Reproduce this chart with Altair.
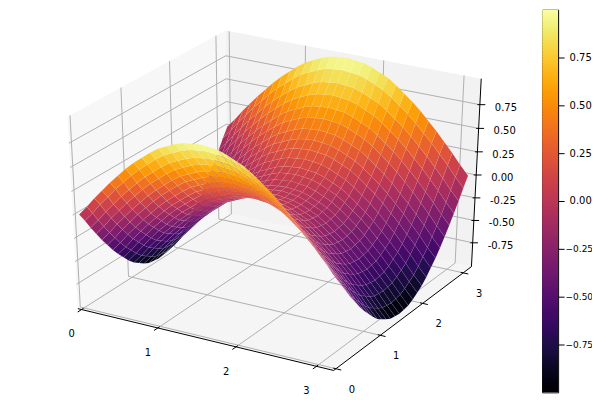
import altair as alt
import pandas as pd

x_grid = [0, .105, .209, .314, .419, .524, .628, .733, .838, .942, 1.047, 1.152, 1.257, 1.361, 1.466, 1.571,
          1.676, 1.78, 1.885, 1.99, 2.094, 2.199, 2.304, 2.409, 2.513, 2.618, 2.723, 2.827, 2.932, 3.037, 3.142]
y_grid = list(x_grid)

# surface heights in hundredths; one row per y_grid value
z_rows = [
[0,10,21,31,41,50,59,67,74,81,87,91,95,98,99,100,99,98,95,91,87,81,74,67,59,50,41,31,21,10,0],
[-10,0,11,21,31,40,49,57,64,71,77,81,85,88,89,90,89,88,85,81,77,71,64,57,49,40,31,21,11,0,-10],
[-21,-11,0,10,20,29,38,46,53,60,66,70,74,77,78,79,78,77,74,70,66,60,53,46,38,29,20,10,0,-11,-21],
[-31,-21,-10,0,10,19,28,36,43,50,56,60,64,67,68,69,68,67,64,60,56,50,43,36,28,19,10,0,-10,-21,-31],
[-41,-31,-20,-10,0,9,18,26,33,40,46,50,54,57,58,59,58,57,54,50,46,40,33,26,18,9,0,-10,-20,-31,-41],
[-50,-40,-29,-19,-9,0,9,17,24,31,37,41,45,48,49,50,49,48,45,41,37,31,24,17,9,0,-9,-19,-29,-40,-50],
[-59,-49,-38,-28,-18,-9,0,8,15,22,28,32,36,39,40,41,40,39,36,32,28,22,15,8,0,-9,-18,-28,-38,-49,-59],
[-67,-57,-46,-36,-26,-17,-8,0,7,14,20,24,28,31,32,33,32,31,28,24,20,14,7,0,-8,-17,-26,-36,-46,-57,-67],
[-74,-64,-53,-43,-33,-24,-15,-7,0,7,13,17,21,24,25,26,25,24,21,17,13,7,0,-7,-15,-24,-33,-43,-53,-64,-74],
[-81,-71,-60,-50,-40,-31,-22,-14,-7,0,6,10,14,17,18,19,18,17,14,10,6,0,-7,-14,-22,-31,-40,-50,-60,-71,-81],
[-87,-77,-66,-56,-46,-37,-28,-20,-13,-6,0,4,8,11,12,13,12,11,8,4,0,-6,-13,-20,-28,-37,-46,-56,-66,-77,-87],
[-91,-81,-70,-60,-50,-41,-32,-24,-17,-10,-4,0,4,7,8,9,8,7,4,0,-4,-10,-17,-24,-32,-41,-50,-60,-70,-81,-91],
[-95,-85,-74,-64,-54,-45,-36,-28,-21,-14,-8,-4,0,3,4,5,4,3,0,-4,-8,-14,-21,-28,-36,-45,-54,-64,-74,-85,-95],
[-98,-88,-77,-67,-57,-48,-39,-31,-24,-17,-11,-7,-3,0,1,2,1,0,-3,-7,-11,-17,-24,-31,-39,-48,-57,-67,-77,-88,-98],
[-99,-89,-78,-68,-58,-49,-40,-32,-25,-18,-12,-8,-4,-1,0,1,0,-1,-4,-8,-12,-18,-25,-32,-40,-49,-58,-68,-78,-89,-99],
[-100,-90,-79,-69,-59,-50,-41,-33,-26,-19,-13,-9,-5,-2,-1,0,-1,-2,-5,-9,-13,-19,-26,-33,-41,-50,-59,-69,-79,-90,-100],
[-99,-89,-78,-68,-58,-49,-40,-32,-25,-18,-12,-8,-4,-1,0,1,0,-1,-4,-8,-12,-18,-25,-32,-40,-49,-58,-68,-78,-89,-99],
[-98,-88,-77,-67,-57,-48,-39,-31,-24,-17,-11,-7,-3,0,1,2,1,0,-3,-7,-11,-17,-24,-31,-39,-48,-57,-67,-77,-88,-98],
[-95,-85,-74,-64,-54,-45,-36,-28,-21,-14,-8,-4,0,3,4,5,4,3,0,-4,-8,-14,-21,-28,-36,-45,-54,-64,-74,-85,-95],
[-91,-81,-70,-60,-50,-41,-32,-24,-17,-10,-4,0,4,7,8,9,8,7,4,0,-4,-10,-17,-24,-32,-41,-50,-60,-70,-81,-91],
[-87,-77,-66,-56,-46,-37,-28,-20,-13,-6,0,4,8,11,12,13,12,11,8,4,0,-6,-13,-20,-28,-37,-46,-56,-66,-77,-87],
[-81,-71,-60,-50,-40,-31,-22,-14,-7,0,6,10,14,17,18,19,18,17,14,10,6,0,-7,-14,-22,-31,-40,-50,-60,-71,-81],
[-74,-64,-53,-43,-33,-24,-15,-7,0,7,13,17,21,24,25,26,25,24,21,17,13,7,0,-7,-15,-24,-33,-43,-53,-64,-74],
[-67,-57,-46,-36,-26,-17,-8,0,7,14,20,24,28,31,32,33,32,31,28,24,20,14,7,0,-8,-17,-26,-36,-46,-57,-67],
[-59,-49,-38,-28,-18,-9,0,8,15,22,28,32,36,39,40,41,40,39,36,32,28,22,15,8,0,-9,-18,-28,-38,-49,-59],
[-50,-40,-29,-19,-9,0,9,17,24,31,37,41,45,48,49,50,49,48,45,41,37,31,24,17,9,0,-9,-19,-29,-40,-50],
[-41,-31,-20,-10,0,9,18,26,33,40,46,50,54,57,58,59,58,57,54,50,46,40,33,26,18,9,0,-10,-20,-31,-41],
[-31,-21,-10,0,10,19,28,36,43,50,56,60,64,67,68,69,68,67,64,60,56,50,43,36,28,19,10,0,-10,-21,-31],
[-21,-11,0,10,20,29,38,46,53,60,66,70,74,77,78,79,78,77,74,70,66,60,53,46,38,29,20,10,0,-11,-21],
[-10,0,11,21,31,40,49,57,64,71,77,81,85,88,89,90,89,88,85,81,77,71,64,57,49,40,31,21,11,0,-10],
[0,10,21,31,41,50,59,67,74,81,87,91,95,98,99,100,99,98,95,91,87,81,74,67,59,50,41,31,21,10,0],
]

x_ticks = [0, 1, 2, 3]
y_ticks = [0, 1, 2, 3]
z_ticks = [-0.75, -0.5, -0.25, 0, 0.25, 0.5, 0.75]
z_tick_labels = ["-0.75", "-0.50", "-0.25", "0.00", "0.25", "0.50", "0.75"]

XMIN, XMAX = -0.05, 3.21
YMIN, YMAX = -0.05, 3.21
ZMIN, ZMAX = -1.02, 1.02
W, H = 533, 384
FONT = "DejaVu Sans"


def cam(x, y, z):
    """Perspective camera at elevation 30, azimuth -60, distance 10."""
    qx = (x - XMIN) / (XMAX - XMIN) - .5
    qy = (y - YMIN) / (YMAX - YMIN) - .5
    qz = (z - ZMIN) / (ZMAX - ZMIN) - .5
    xv = .866025 * qx + .5 * qy
    yv = -.25 * qx + .433013 * qy + .866025 * qz
    zv = .433013 * qx - .75 * qy + .5 * qz
    w = 10 - zv
    return 269.6 + 2963 * xv / w, 185.7 - 2199 * yv / w, zv


def poly(points, **props):
    ring = [list(cam(*p)[:2]) for p in points]
    ring.append(ring[0])
    return {"type": "Feature", "properties": props, "geometry": {"type": "Polygon", "coordinates": [ring]}}


# surface quads, far ones first
faces = []
for j in range(len(y_grid) - 1):
    for i in range(len(x_grid) - 1):
        corners = [(x_grid[i], y_grid[j], z_rows[j][i] / 100),
                   (x_grid[i + 1], y_grid[j], z_rows[j][i + 1] / 100),
                   (x_grid[i + 1], y_grid[j + 1], z_rows[j + 1][i + 1] / 100),
                   (x_grid[i], y_grid[j + 1], z_rows[j + 1][i] / 100)]
        mean_z = sum(c[2] for c in corners) / 4
        depth = sum(cam(*c)[2] for c in corners) / 4
        faces.append((depth, poly(corners, z=mean_z)))
faces.sort(key=lambda f: f[0])
face_features = [f[1] for f in faces]


def pane(points, color):
    return alt.Chart(alt.Data(values=[poly(points)])).mark_geoshape(strokeWidth=0, fill=color).project(
        type="identity", scale=1, translate=[0, 0])


panes = [
    pane([(XMIN, YMIN, ZMIN), (XMAX, YMIN, ZMIN), (XMAX, YMAX, ZMIN), (XMIN, YMAX, ZMIN)], "#f5f5f5"),
    pane([(XMIN, YMIN, ZMIN), (XMIN, YMAX, ZMIN), (XMIN, YMAX, ZMAX), (XMIN, YMIN, ZMAX)], "#f7f7f7"),
    pane([(XMIN, YMAX, ZMIN), (XMAX, YMAX, ZMIN), (XMAX, YMAX, ZMAX), (XMIN, YMAX, ZMAX)], "#f2f2f2"),
]


def seg(a, b):
    ax, ay, _ = cam(*a)
    bx, by, _ = cam(*b)
    return {"x": ax, "y": ay, "x2": bx, "y2": by}


SX, SY, SZ = XMAX - XMIN, YMAX - YMIN, ZMAX - ZMIN
grid, axis_lines, labels = [], [], []
for t in x_ticks:
    grid += [seg((t, YMIN, ZMIN), (t, YMAX, ZMIN)), seg((t, YMAX, ZMIN), (t, YMAX, ZMAX))]
    axis_lines.append(seg((t, YMIN + .012 * SY, ZMIN), (t, YMIN - .024 * SY, ZMIN)))
    px, py, _ = cam(t, YMIN, ZMIN)
    labels.append({"x": px - 10, "y": py + 25, "t": str(t), "a": "center"})
for t in y_ticks:
    grid += [seg((XMAX, t, ZMIN), (XMIN, t, ZMIN)), seg((XMIN, t, ZMIN), (XMIN, t, ZMAX))]
    axis_lines.append(seg((XMAX - .01 * SX, t, ZMIN), (XMAX + .02 * SX, t, ZMIN)))
    px, py, _ = cam(XMAX, t, ZMIN)
    labels.append({"x": px + 16, "y": py + 21, "t": str(t), "a": "center"})
for t, s in zip(z_ticks, z_tick_labels):
    grid += [seg((XMIN, YMIN, t), (XMIN, YMAX, t)), seg((XMIN, YMAX, t), (XMAX, YMAX, t))]
    axis_lines.append(seg((XMAX - .0073 * SX, YMAX - .0042 * SY, t), (XMAX + .016 * SX, YMAX + .0092 * SY, t)))
    px, py, _ = cam(XMAX, YMAX, t)
    labels.append({"x": px + 15, "y": py + 3, "t": s, "a": "left"})
axis_lines += [seg((XMIN, YMIN, ZMIN), (XMAX, YMIN, ZMIN)),
               seg((XMAX, YMIN, ZMIN), (XMAX, YMAX, ZMIN)),
               seg((XMAX, YMAX, ZMIN), (XMAX, YMAX, ZMAX))]

xs = alt.Scale(domain=[0, W], nice=False, zero=False)
ys = alt.Scale(domain=[H, 0], nice=False, zero=False)
inferno = alt.Scale(scheme="inferno", domain=[-1, 1])

surface = alt.Chart(alt.Data(values=face_features)).mark_geoshape(
    stroke="white", strokeWidth=0.4, strokeOpacity=0.15).encode(
    fill=alt.Fill("properties.z:Q", scale=inferno, legend=None)).project(type="identity", scale=1, translate=[0, 0])


def rules(rows, color, width):
    return alt.Chart(pd.DataFrame(rows)).mark_rule(color=color, strokeWidth=width).encode(
        x=alt.X("x:Q", scale=xs, axis=None), y=alt.Y("y:Q", scale=ys, axis=None),
        x2="x2:Q", y2="y2:Q")


label_df = pd.DataFrame(labels)
center_text = alt.Chart(label_df[label_df.a == "center"]).mark_text(
    font=FONT, fontSize=10, color="black", align="center", baseline="middle").encode(
    x=alt.X("x:Q", scale=xs, axis=None), y=alt.Y("y:Q", scale=ys, axis=None), text="t:N")
left_text = alt.Chart(label_df[label_df.a == "left"]).mark_text(
    font=FONT, fontSize=10, color="black", align="left", baseline="middle").encode(
    x=alt.X("x:Q", scale=xs, axis=None), y=alt.Y("y:Q", scale=ys, axis=None), text="t:N")

main = alt.layer(*panes, rules(grid, "#b0b0b0", 1), surface, rules(axis_lines, "black", 1),
                 center_text, left_text).properties(
    width=W, height=H, view=alt.ViewConfig(stroke="transparent"))

bar = alt.Chart(alt.sequence(-1, 1, 0.008, as_="v")).transform_calculate(v2="datum.v + 0.012").mark_rect(
    clip=True).encode(
    y=alt.Y("v:Q", scale=alt.Scale(domain=[-1, 1], nice=False, zero=False),
            axis=alt.Axis(orient="right", values=z_ticks, format=".2f", title=None, domain=False, grid=False,
                          tickSize=6, tickColor="black", tickWidth=1, labelColor="black", labelFont=FONT,
                          labelFontSize={"condition": {"test": "datum.value < 0", "value": 9}, "value": 10},
                          labelPadding={"condition": {"test": "datum.value < 0", "value": 1}, "value": 5})),
    y2="v2:Q",
    fill=alt.Fill("v:Q", scale=inferno, legend=None),
).properties(width=16, height=H, view=alt.ViewConfig(stroke="black", strokeWidth=1))

chart = alt.hconcat(main, bar, spacing=0).properties(
    padding={"left": 0, "top": 0, "right": -2, "bottom": 0})
chart.save("out.html", embed_options={"renderer": "svg", "actions": False})
